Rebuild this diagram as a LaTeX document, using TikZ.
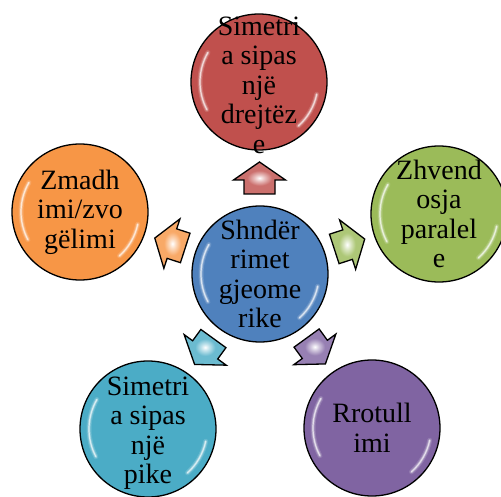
\documentclass[tikz,border=0pt]{standalone}
\usepackage{fontspec}
\setmainfont{Liberation Serif}
\usetikzlibrary{calc}

\definecolor{cblue}{HTML}{4F81BD}
\definecolor{cred}{HTML}{C0504D}
\definecolor{cgreen}{HTML}{9BBB59}
\definecolor{cpurple}{HTML}{8064A2}
\definecolor{cteal}{HTML}{4BACC6}
\definecolor{corange}{HTML}{F79646}

% small white sparkle in the middle of an arrow
\colorlet{arrowcol}{white}
\pgfdeclareradialshading[arrowcol]{sparkle}{\pgfpoint{0bp}{0bp}}{%
  color(0bp)=(white); color(5bp)=(white!55!arrowcol);
  color(12bp)=(arrowcol); color(50bp)=(arrowcol)}

\tikzset{
  bubble/.style={circle, minimum size=136pt, inner sep=0pt, fill=#1,
    draw=black, line width=1.3pt},
  btext/.style={align=center, inner sep=0pt, text=black,
    font=\fontsize{28}{29.5}\selectfont},
  gloss/.style={white, line cap=round},
  pics/blockarrow/.style={
    code={
      \colorlet{arrowcol}{#1!82!white}
      \shadedraw[draw=black, line width=1.3pt, line join=miter,
        shading=sparkle]
        (0,-16) -- (26,2) -- (15.5,2) -- (15.5,16) -- (-15.5,16)
        -- (-15.5,2) -- (-26,2) -- cycle;
    }
  }
}

% glossy streaks inside a bubble
\newcommand\glossify[1]{%
  \foreach \w/\o in {5/0.15,2.8/0.3,1.2/0.65}{
    \draw[gloss, line width=\w pt, opacity=\o]
      ($(#1)+(-150:59)$) arc[start angle=-150, end angle=-208, radius=59];
    \draw[gloss, line width=\w pt, opacity=\o]
      ($(#1)+(12:59)$) arc[start angle=12, end angle=48, radius=59];
  }%
}

\begin{document}
\begin{tikzpicture}[x=1pt,y=-1pt]
\useasboundingbox (0,0) rectangle (501,497);

% bubbles
\node[bubble=cblue]   (c)  at (260,274) {};
\node[bubble=cred]    (t)  at (259,82)  {};
\node[bubble=cgreen]  (r)  at (439,214) {};
\node[bubble=cpurple] (br) at (372,428) {};
\node[bubble=cteal]   (bl) at (148,429) {};
\node[bubble=corange] (l)  at (80,212)  {};

\foreach \n in {c,t,r,br,bl,l}{\glossify{\n}}

% block arrows from the centre outwards
\pic[rotate=0]    at ($(c)!0.5!(t)$)  {blockarrow=cred};
\pic[rotate=-72]  at ($(c)!0.5!(r)$)  {blockarrow=cgreen};
\pic[rotate=-144] at ($(c)!0.5!(br)$) {blockarrow=cpurple};
\pic[rotate=144]  at ($(c)!0.5!(bl)$) {blockarrow=cteal};
\pic[rotate=72]   at ($(c)!0.5!(l)$)  {blockarrow=corange};

% labels
\node[btext] (c-txt)  at (c)  {Shndër\\rimet\\gjeome\\rike};
\node[btext] (t-txt)  at ($(t)+(0,3)$)  {Simetri\\a sipas\\një\\drejtëz\\e};
\node[btext] (r-txt)  at (r)  {Zhvend\\osja\\paralel\\e};
\node[btext] (br-txt) at (br) {Rrotull\\imi};
\node[btext] (bl-txt) at ($(bl)+(0,4)$) {Simetri\\a sipas\\një\\pike};
\node[btext] (l-txt)  at (l)  {Zmadh\\imi/zvo\\gëlimi};
\end{tikzpicture}
\end{document}
